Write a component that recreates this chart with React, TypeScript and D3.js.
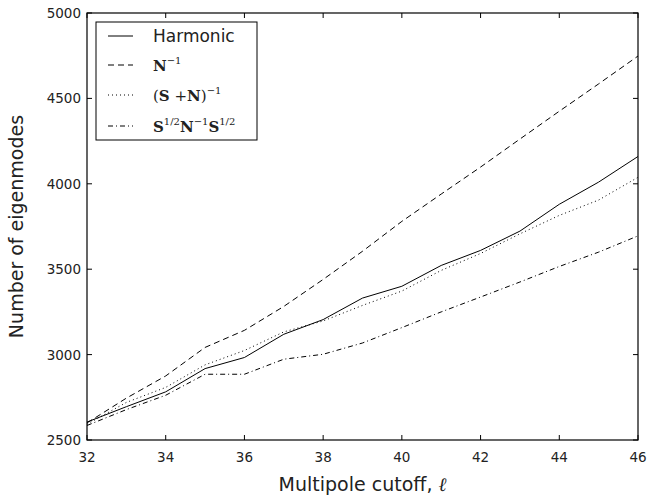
import React from "react";
import * as d3 from "d3";

const ells = [32, 33, 34, 35, 36, 37, 38, 39, 40, 41, 42, 43, 44, 45, 46];
const harmonic = [2605, 2695, 2782, 2918, 2983, 3119, 3205, 3331, 3400, 3522, 3610, 3723, 3880, 4010, 4160];
const nInv = [2600, 2745, 2875, 3042, 3142, 3282, 3440, 3605, 3780, 3940, 4098, 4262, 4425, 4585, 4748];
const snInv = [2592, 2720, 2808, 2940, 3024, 3133, 3197, 3288, 3372, 3493, 3592, 3707, 3815, 3905, 4038];
const sns = [2585, 2678, 2762, 2885, 2885, 2973, 3002, 3068, 3158, 3250, 3337, 3425, 3516, 3600, 3695];
const xTicks = [32, 34, 36, 38, 40, 42, 44, 46];
const yTicks = [2500, 3000, 3500, 4000, 4500, 5000];

const W = 651, H = 497;
const L = 87, R = 638, T = 13, B = 440;

export default function App() {
  const x = d3.scaleLinear().domain([32, 46]).range([L, R]);
  const y = d3.scaleLinear().domain([2500, 5000]).range([B, T]);
  const line = d3.line<number>().x((_, i) => x(ells[i])).y((d) => y(d));
  const series = [
    { data: harmonic, dash: "none" },
    { data: nInv, dash: "6,4" },
    { data: snInv, dash: "1,3" },
    { data: sns, dash: "5,3,1,3" },
  ];
  const sans = "DejaVu Sans";
  const serif = "DejaVu Serif";
  const legendRows = [36, 65, 95, 126];
  return (
    <svg width={W} height={H} style={{ position: "absolute", left: 0, top: 0, background: "#fff" }}>
      <rect x={0} y={0} width={W} height={H} fill="#fff" />
      {series.map((s, i) => (
        <path key={i} d={line(s.data) || ""} fill="none" stroke="#000" strokeWidth={1} strokeDasharray={s.dash} />
      ))}
      <rect x={L} y={T} width={R - L} height={B - T} fill="none" stroke="#000" strokeWidth={1.2} />
      {xTicks.map((t) => (
        <g key={t}>
          <line x1={x(t)} x2={x(t)} y1={B} y2={B - 5} stroke="#000" />
          <line x1={x(t)} x2={x(t)} y1={T} y2={T + 5} stroke="#000" />
          <text x={x(t)} y={462} fontFamily={sans} fontSize={13.5} textAnchor="middle" fill="#222">{t}</text>
        </g>
      ))}
      {yTicks.map((t) => (
        <g key={t}>
          <line x1={L} x2={L + 5} y1={y(t)} y2={y(t)} stroke="#000" />
          <line x1={R} x2={R - 5} y1={y(t)} y2={y(t)} stroke="#000" />
          <text x={81} y={y(t) + 5} fontFamily={sans} fontSize={13.5} textAnchor="end" fill="#222">{t}</text>
        </g>
      ))}
      <text x={(L + R) / 2} y={491} fontFamily={sans} fontSize={19} textAnchor="middle" fill="#222">
        Multipole cutoff, <tspan fontFamily={serif} fontStyle="italic">ℓ</tspan>
      </text>
      <text transform={`translate(23,${(T + B) / 2}) rotate(-90)`} fontFamily={sans} fontSize={19} textAnchor="middle" fill="#222">
        Number of eigenmodes
      </text>
      <rect x={96} y={22} width={161} height={118} fill="#fff" stroke="#000" strokeWidth={1} />
      {series.map((s, i) => (
        <line key={i} x1={108} x2={133} y1={legendRows[i]} y2={legendRows[i]} stroke="#000" strokeWidth={1} strokeDasharray={s.dash} />
      ))}
      <text x={153} y={legendRows[0] + 6} fontFamily={sans} fontSize={17} fill="#222">Harmonic</text>
      <text x={153} y={legendRows[1] + 6} fontFamily={serif} fontSize={15} fill="#222">
        <tspan fontWeight="bold">N</tspan>
        <tspan fontSize={10} dy={-7}>−1</tspan>
      </text>
      <text x={153} y={legendRows[2] + 6} fontFamily={serif} fontSize={15} fill="#222">
        <tspan>(</tspan><tspan fontWeight="bold">S</tspan><tspan> +</tspan><tspan fontWeight="bold">N</tspan><tspan>)</tspan>
        <tspan fontSize={10} dy={-7}>−1</tspan>
      </text>
      <text x={153} y={legendRows[3] + 6} fontFamily={serif} fontSize={15} fill="#222">
        <tspan fontWeight="bold">S</tspan>
        <tspan fontSize={10} dy={-7}>1/2</tspan>
        <tspan fontWeight="bold" dy={7}>N</tspan>
        <tspan fontSize={10} dy={-7}>−1</tspan>
        <tspan fontWeight="bold" dy={7}>S</tspan>
        <tspan fontSize={10} dy={-7}>1/2</tspan>
      </text>
    </svg>
  );
}
